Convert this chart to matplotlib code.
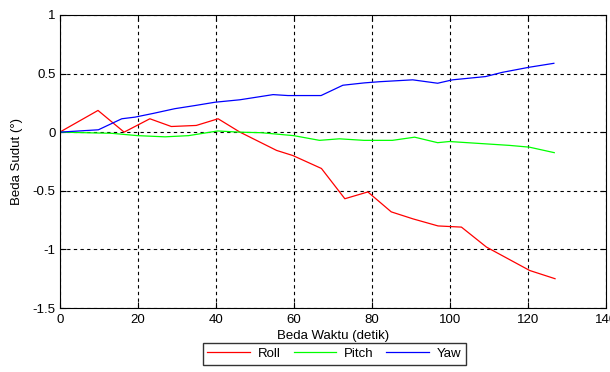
import numpy as np
import matplotlib.pyplot as plt

plt.rcParams['font.family'] = ['Liberation Sans', 'DejaVu Sans']
plt.rcParams['font.size'] = 9.5

roll_t = [0, 9.8, 16.5, 23.1, 28.6, 35, 40.6, 46.2, 55.6, 59.8, 67.1, 73.1, 79, 85, 90.6, 97, 103, 109.4, 120.5, 127]
roll = [0, 0.185, 0, 0.114, 0.048, 0.057, 0.114, 0.0, -0.156, -0.2, -0.31, -0.568, -0.51, -0.68, -0.74, -0.80, -0.81, -0.98, -1.18, -1.25]

pitch_t = [0, 13.3, 20, 27, 33, 40.5, 46, 51.7, 60, 66.6, 71.7, 78, 85.3, 91, 96.9, 99.9, 115.3, 120.4, 126.8]
pitch = [0, -0.01, -0.03, -0.04, -0.03, 0.01, 0.0, -0.005, -0.03, -0.07, -0.057, -0.07, -0.07, -0.043, -0.09, -0.08, -0.113, -0.128, -0.175]

yaw_t = [0, 9.9, 15.9, 19.3, 24, 29.5, 34.7, 39.8, 46.2, 54.7, 58.5, 67, 72.6, 78.1, 82, 90.5, 96.9, 100.7, 109.2, 113.5, 120.3, 126.7]
yaw = [0, 0.02, 0.114, 0.128, 0.16, 0.2, 0.227, 0.255, 0.276, 0.32, 0.312, 0.312, 0.40, 0.42, 0.43, 0.446, 0.417, 0.446, 0.474, 0.51, 0.553, 0.587]

fig = plt.figure(figsize=(6.1, 3.72), dpi=100)
ax = fig.add_axes([0.098, 0.172, 0.895, 0.788])

ax.plot(roll_t, roll, color='red', lw=0.9, label='Roll')
ax.plot(pitch_t, pitch, color='#00ff00', lw=0.9, label='Pitch')
ax.plot(yaw_t, yaw, color='blue', lw=0.9, label='Yaw')

ax.set_xlim(0, 140)
ax.set_ylim(-1.5, 1)
ax.set_xticks(np.arange(0, 141, 20))
ax.set_yticks([-1.5, -1, -0.5, 0, 0.5, 1])
ax.set_yticklabels(['-1.5', '-1', '-0.5', '0', '0.5', '1'])
ax.grid(True, color='black', linestyle=(0, (3, 3)), lw=0.8)
ax.tick_params(direction='in', top=True, right=True, length=4)
ax.tick_params(axis='x', pad=4)
ax.tick_params(axis='y', pad=3)
for s in ax.spines.values():
    s.set_linewidth(0.8)

ax.set_xlabel('Beda Waktu (detik)', labelpad=3)
ax.set_ylabel('Beda Sudut (°)', labelpad=7)

fig.legend(loc='lower center', bbox_to_anchor=(0.548, 0.002), ncol=3, frameon=True,
           fancybox=False, edgecolor='black', handlelength=3.2, columnspacing=1.0,
           borderpad=0.35, handletextpad=0.6)

plt.savefig('out.png', dpi=100)
